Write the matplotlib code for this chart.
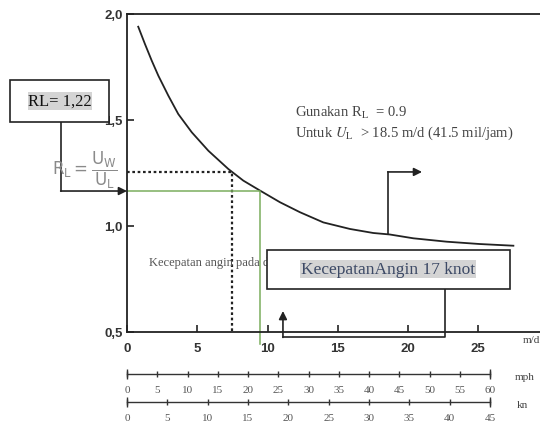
import matplotlib.pyplot as plt
from matplotlib.patches import Rectangle

# Curve R_L vs wind speed over land U_L (m/d)
u_land = [0.80, 1.28, 1.76, 2.23, 2.94, 3.65, 4.61, 5.79, 7.21, 8.28, 9.47, 10.89,
          12.31, 13.97, 15.87, 17.53, 18.7, 20.38, 22.75, 25.1, 27.5]
r_l = [1.940, 1.858, 1.780, 1.709, 1.615, 1.528, 1.442, 1.355, 1.269, 1.214, 1.167, 1.112,
       1.065, 1.017, 0.986, 0.967, 0.960, 0.942, 0.926, 0.915, 0.907]

x_ticks = [0, 5, 10, 15, 20, 25]
y_ticks = [0.5, 1.0, 1.5, 2.0]
y_labels = ['0,5', '1,0', '1,5', '2,0']
mph_ticks = list(range(0, 61, 5))
kn_ticks = list(range(0, 46, 5))

# read-off lines
dotted_x, dotted_y = 7.5, 1.255
green_x, green_y = 9.47, 1.165

W, H = 540, 427
fig = plt.figure(figsize=(5.4, 4.27), dpi=100)
plt.rcParams['mathtext.fontset'] = 'stix'

ax = fig.add_axes([127 / W, 94 / H, (W - 127) / W, 318 / H])
ax.set_xlim(0, (W - 127) / 14.05)
ax.set_ylim(0.5, 2.0)
ax.spines['right'].set_visible(False)
for s in ['left', 'top', 'bottom']:
    ax.spines[s].set_linewidth(1.3)
    ax.spines[s].set_color('#222222')

ax.plot(u_land, r_l, color='#222222', lw=1.3)

ax.set_xticks(x_ticks)
ax.set_yticks(y_ticks)
ax.set_yticklabels(y_labels)
ax.tick_params(direction='in', length=5, width=1.2, colors='#222222')
ax.tick_params(axis='x', pad=7)
ax.tick_params(axis='y', pad=3)
for lab in ax.get_xticklabels() + ax.get_yticklabels():
    lab.set_fontfamily('Liberation Sans')
    lab.set_fontweight('bold')
    lab.set_fontsize(9.5)
    lab.set_color('#333333')

serif = 'Liberation Serif'
ax.text(28.2, 0.465, 'm/d', fontsize=8, family=serif, color='#444444',
        va='center', ha='left', clip_on=False)

# dotted and green read-off lines
ax.plot([0, dotted_x, dotted_x], [dotted_y, dotted_y, 0.5], color='#222222', lw=1.6,
        ls=(0, (1.2, 1.2)))
ax.plot([0, green_x, green_x], [green_y, green_y, 0.443], color='#7aad5e', lw=1.1,
        clip_on=False)

ax.text(11.96, 1.538, 'Gunakan R$_\\mathrm{L}$  = 0.9', fontsize=10.5, family=serif,
        color='#444444', va='center')
ax.text(11.96, 1.443, 'Untuk $U_\\mathrm{L}$  > 18.5 m/d (41.5 mil/jam)', fontsize=10.5,
        family=serif, color='#444444', va='center')
ax.text(-3.0, 1.265, '$\\mathrm{R_L = \\dfrac{U_W}{U_L}}$', fontsize=12, color='#8a8a8a',
        ha='center', va='center', math_fontfamily='dejavusans', clip_on=False)
ax.text(1.57, 0.83, 'Kecepatan angin pada daratan', fontsize=9, family=serif,
        color='#555555', va='center')

# RL box and its arrow
ax.add_patch(Rectangle((-8.33, 1.491), 7.05, 0.198, facecolor='white', edgecolor='#222222',
                       lw=1.2, clip_on=False, zorder=5))
ax.text(-4.77, 1.59, 'RL= 1,22', fontsize=12, family=serif, color='#111111',
        ha='center', va='center', zorder=6,
        bbox=dict(facecolor='#d4d4d4', edgecolor='none', pad=0.5))
ax.plot([-4.70, -4.70], [1.491, green_y], color='#222222', lw=1.2, clip_on=False)
ax.annotate('', xy=(0, green_y), xytext=(-4.72, green_y),
            arrowprops=dict(arrowstyle='-|>', color='#222222', lw=1.2, mutation_scale=12,
                            shrinkA=0, shrinkB=0), annotation_clip=False)

# right arrow
ax.plot([18.58, 18.58], [0.962, 1.255], color='#222222', lw=1.2)
ax.annotate('', xy=(21.0, 1.255), xytext=(18.56, 1.255),
            arrowprops=dict(arrowstyle='-|>', color='#222222', lw=1.2, mutation_scale=12,
                            shrinkA=0, shrinkB=0))

# wind speed box and its arrow
ax.add_patch(Rectangle((9.96, 0.703), 17.3, 0.184, facecolor='white', edgecolor='#222222',
                       lw=1.2, clip_on=False, zorder=5))
ax.text(18.58, 0.797, 'KecepatanAngin 17 knot', fontsize=12.5, family=serif, color='#3d4a66',
        ha='center', va='center', zorder=6,
        bbox=dict(facecolor='#d4d4d4', edgecolor='none', pad=0.5))
ax.plot([22.63, 22.63, 11.10], [0.703, 0.4764, 0.4764], color='#222222', lw=1.2,
        clip_on=False)
ax.annotate('', xy=(11.10, 0.599), xytext=(11.10, 0.4744),
            arrowprops=dict(arrowstyle='-|>', color='#222222', lw=1.2, mutation_scale=12,
                            shrinkA=0, shrinkB=0), annotation_clip=False)


def small_scale(y_px, ticks, name, name_x):
    sa = fig.add_axes([127 / W, (H - y_px - 5) / H, (490 - 127) / W, 10 / H])
    sa.set_xlim(ticks[0], ticks[-1])
    sa.set_ylim(-1, 1)
    for s in ['left', 'right', 'top']:
        sa.spines[s].set_visible(False)
    sa.spines['bottom'].set_position(('data', 0))
    sa.spines['bottom'].set_color('#333333')
    sa.spines['bottom'].set_linewidth(1.0)
    sa.patch.set_alpha(0)
    sa.set_yticks([])
    sa.set_xticks(ticks)
    sa.tick_params(axis='x', direction='inout', length=4, width=1.0, pad=6,
                   colors='#333333', labelsize=8)
    for lab in sa.get_xticklabels():
        lab.set_fontfamily(serif)
        lab.set_color('#555555')
    sa.vlines([ticks[0], ticks[-1]], -1, 1, color='#333333', lw=1.0, clip_on=False)
    sa.text(name_x, 0.2, name, transform=sa.transAxes, fontsize=8, family=serif,
            color='#444444', va='center')
    return sa


small_scale(375, mph_ticks, 'mph', 1.069)
small_scale(403, kn_ticks, 'kn', 1.074)

fig.savefig('out.png', dpi=100)
